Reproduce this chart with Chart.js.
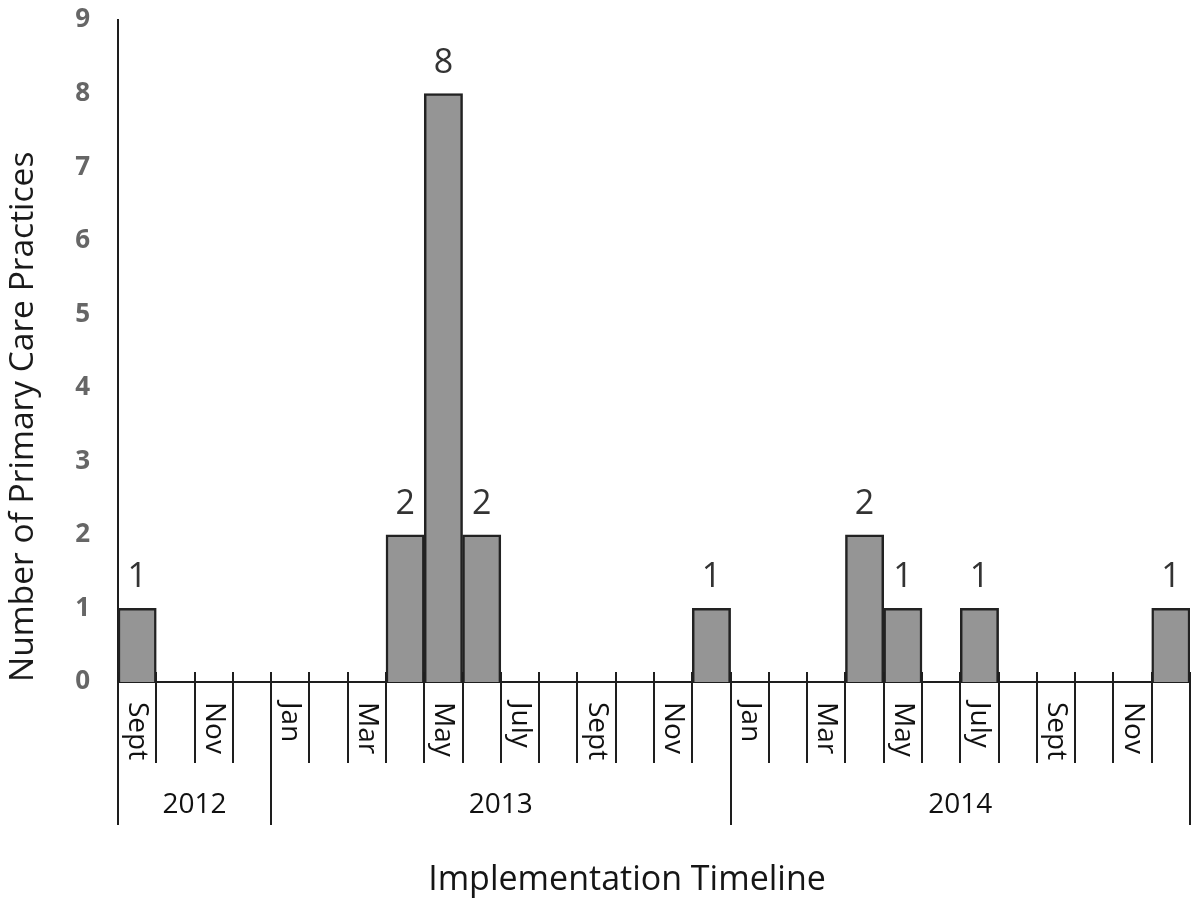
<!DOCTYPE html>
<html>
<head>
<meta charset="utf-8">
<script src="https://cdn.jsdelivr.net/npm/chart.js@4.4.1/dist/chart.umd.min.js"></script>
<style>
  html, body { margin: 0; padding: 0; background: #fff; }
  #wrap { width: 1199px; height: 907px; position: relative; }
</style>
</head>
<body>
<div id="wrap"><canvas id="c" width="1199" height="907"></canvas></div>
<script>
// ---- data ----
const months = ["Sep 2012","Oct 2012","Nov 2012","Dec 2012",
  "Jan 2013","Feb 2013","Mar 2013","Apr 2013","May 2013","Jun 2013","Jul 2013","Aug 2013","Sep 2013","Oct 2013","Nov 2013","Dec 2013",
  "Jan 2014","Feb 2014","Mar 2014","Apr 2014","May 2014","Jun 2014","Jul 2014","Aug 2014","Sep 2014","Oct 2014","Nov 2014","Dec 2014"];
const monthTickLabels = ["Sept","","Nov","",
  "Jan","","Mar","","May","","July","","Sept","","Nov","",
  "Jan","","Mar","","May","","July","","Sept","","Nov",""];
const practices = [1,0,0,0, 0,0,0,2,8,2,0,0,0,0,0,1, 0,0,0,2,1,0,1,0,0,0,0,1];
const years = ["2012","2013","2014"];
const yearStartIndex = [0,4,16];
const yearEndIndex = [4,16,28];
const yTicks = [0,1,2,3,4,5,6,7,8,9];
const yTitle = "Number of Primary Care Practices";
const xTitle = "Implementation Timeline";

const FONT = "'Open Sans', 'DejaVu Sans', sans-serif";

function boundaryX(xs, i) {
  const n = xs.ticks.length;
  const w = (xs.right - xs.left) / n;
  return xs.left + i * w;
}

const timelinePlugin = {
  id: 'timeline',
  afterDraw(chart) {
    const ctx = chart.ctx;
    const xs = chart.scales.x;
    const base = xs.top;
    ctx.save();
    ctx.strokeStyle = '#1e1e1e';
    ctx.lineWidth = 2;
    // month boundary lines
    for (let i = 0; i <= months.length; i++) {
      const x = Math.round(boundaryX(xs, i));
      const isYear = yearStartIndex.includes(i) || i === months.length;
      ctx.beginPath();
      ctx.moveTo(x, base - 10);
      ctx.lineTo(x, isYear ? base + 143 : base + 81);
      ctx.stroke();
    }
    // month labels rotated clockwise
    ctx.fillStyle = '#111';
    ctx.font = "28px " + FONT;
    ctx.textAlign = 'left';
    ctx.textBaseline = 'middle';
    monthTickLabels.forEach((lab, i) => {
      if (!lab) return;
      const x = xs.getPixelForValue(i);
      ctx.save();
      ctx.translate(x, base + 20);
      ctx.rotate(Math.PI / 2);
      ctx.fillText(lab, 0, 0);
      ctx.restore();
    });
    // year labels
    ctx.font = "28px " + FONT;
    ctx.textAlign = 'center';
    years.forEach((y, k) => {
      const x = (boundaryX(xs, yearStartIndex[k]) + boundaryX(xs, yearEndIndex[k])) / 2;
      ctx.fillText(y, x, base + 123);
    });
    // x title
    ctx.font = "34px " + FONT;
    ctx.fillStyle = '#151515';
    ctx.fillText(xTitle, 627, 880);
    ctx.restore();
  },
  afterDatasetsDraw(chart) {
    const ctx = chart.ctx;
    const meta = chart.getDatasetMeta(0);
    ctx.save();
    ctx.font = "34px " + FONT;
    ctx.fillStyle = '#333';
    ctx.textAlign = 'center';
    ctx.textBaseline = 'alphabetic';
    meta.data.forEach((bar, i) => {
      const v = practices[i];
      if (!v) return;
      ctx.fillText(String(v), bar.x, bar.y - 21);
    });
    ctx.restore();
  }
};

new Chart(document.getElementById('c'), {
  type: 'bar',
  data: {
    labels: months,
    datasets: [{
      data: practices,
      backgroundColor: '#959595',
      borderColor: '#222',
      borderWidth: 2.5,
      borderSkipped: 'bottom',
      barPercentage: 1,
      categoryPercentage: 1
    }]
  },
  options: {
    responsive: false,
    animation: false,
    devicePixelRatio: 1,
    layout: { padding: { top: 20, right: 9, left: 0, bottom: 0 } },
    plugins: { legend: { display: false }, tooltip: { enabled: false } },
    scales: {
      x: {
        type: 'category',
        grid: { display: false, drawTicks: false },
        border: { display: true, color: '#1e1e1e', width: 2 },
        ticks: { display: false },
        afterFit(scale) { scale.height = 225; }
      },
      y: {
        min: 0, max: 9,
        afterBuildTicks(scale) { scale.ticks = yTicks.map(v => ({ value: v })); },
        grid: { display: false, drawTicks: true, tickLength: 28 },
        border: { display: true, color: '#1e1e1e', width: 2 },
        ticks: {
          padding: 0,
          color: '#666',
          font: { family: FONT, size: 26, weight: 'bold' }
        },
        title: {
          display: true,
          text: yTitle,
          align: 'start',
          color: '#1a1a1a',
          font: { family: FONT, size: 33.5 },
          padding: { top: 3, bottom: 0 }
        },
        afterFit(scale) { scale.width = 118; }
      }
    }
  },
  plugins: [timelinePlugin]
});
</script>
</body>
</html>
